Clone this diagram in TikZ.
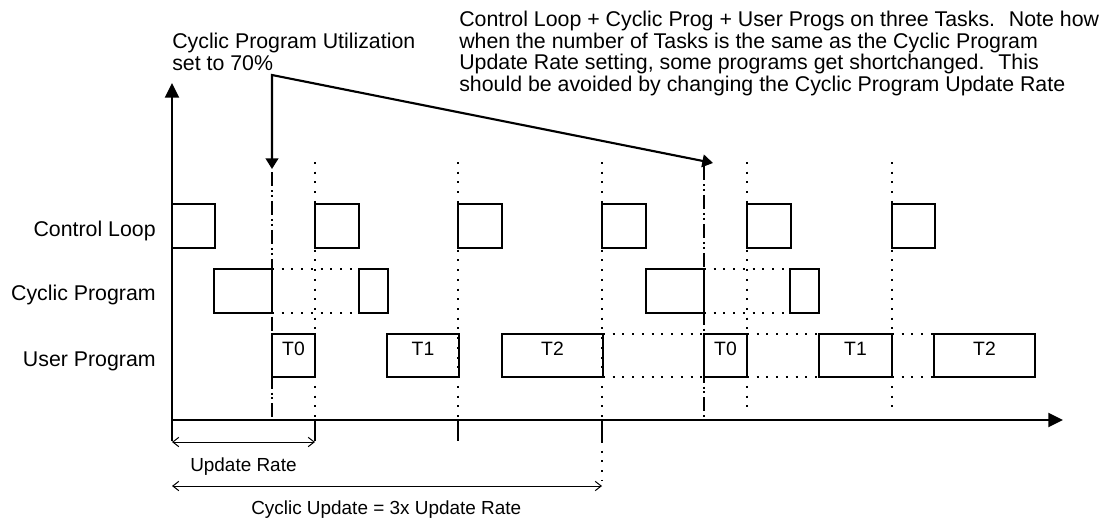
\documentclass[tikz,border=0pt]{standalone}
\usepackage{fontspec}
\setmainfont{Liberation Sans}
\usetikzlibrary{arrows.meta,fit}
\begin{document}
\begin{tikzpicture}[x=0.75pt,y=-0.75pt,
  box/.style={draw, line width=1.6pt, inner sep=0pt, outer sep=0pt, font=\fontsize{14.5}{16}\selectfont},
  dotline/.style={line width=1.5pt, dash pattern=on 1.5pt off 5.8pt},
  dashdot/.style={line width=1.6pt, dash pattern=on 10.5pt off 3pt on 1.5pt off 2.2pt on 1.5pt off 3pt},
  axis/.style={line width=1.6pt},
  lbl/.style={inner sep=0pt, font=\fontsize{16}{16.1}\selectfont},
  small/.style={inner sep=0pt, font=\fontsize{14.2}{16}\selectfont},
  dim/.style={line width=0.75pt, {Straight Barb[length=4.5pt,width=7pt]}-{Straight Barb[length=4.5pt,width=7pt]}},
  pointer/.style={line width=1.6pt, {Triangle[length=8pt,width=9.5pt]}-{Triangle[length=8pt,width=9.5pt]}},
]
\useasboundingbox (0,0) rectangle (1112,521);

% ---------- coordinates ----------
\coordinate (o) at (172,420);
\coordinate (ytop) at (172,83);
\coordinate (ybot) at (172,441);
\coordinate (xend) at (1063,420);

\coordinate (dA1) at (272,172);  \coordinate (dA2) at (272,420);
\coordinate (dB1) at (704,166);  \coordinate (dB2) at (704,420);

\coordinate (v1t) at (315,162);  \coordinate (v1b) at (315,420); \coordinate (k1) at (315,441);
\coordinate (v2t) at (458,162);  \coordinate (v2b) at (458,420); \coordinate (k2) at (458,441);
\coordinate (v3t) at (602,162);  \coordinate (v3b) at (602,420); \coordinate (k3) at (602,441);
\coordinate (k3e) at (602,480);
\coordinate (v4t) at (747,162);  \coordinate (v4b) at (747,412);
\coordinate (v5t) at (892,162);  \coordinate (v5b) at (892,412);

\coordinate (bend) at (272,75);
\coordinate (tipA) at (272,169);
\coordinate (tipB) at (713,163);

\coordinate (d1a) at (172,442); \coordinate (d1b) at (315,442);
\coordinate (d2a) at (172,486); \coordinate (d2b) at (602,486);

% ---------- guide lines ----------
\draw[dashdot] (dA1) -- (dA2);
\draw[dashdot] (dB1) -- (dB2);
\draw[dotline] (v1t) -- (v1b);
\draw[dotline] (v2t) -- (v2b);
\draw[dotline] (v3t) -- (v3b);
\draw[dotline] (v4t) -- (v4b);
\draw[dotline] (v5t) -- (v5b);
\draw[dotline] (k3) -- (k3e);

% ---------- axes ----------
\draw[axis, -{Triangle[length=11pt,width=10.5pt]}] (ybot) -- (ytop);
\draw[axis, -{Triangle[length=11pt,width=10.5pt]}] (o) -- (xend);
\draw[axis] (v1b) -- (k1);
\draw[axis] (v2b) -- (k2);
\draw[axis] (v3b) -- (k3);

% ---------- Control Loop ----------
\node[box, fit={(172,204) (215,248)}] (cl1) {};
\node[box, fit={(315,204) (359,248)}] (cl2) {};
\node[box, fit={(458,204) (502,248)}] (cl3) {};
\node[box, fit={(602,204) (646,248)}] (cl4) {};
\node[box, fit={(747,204) (791,248)}] (cl5) {};
\node[box, fit={(892,204) (935,248)}] (cl6) {};

% ---------- Cyclic Program ----------
\node[box, fit={(214,269) (272,313)}] (cp1) {};
\node[box, fit={(359,269) (388,313)}] (cp1s) {};
\node[box, fit={(646,269) (704,313)}] (cp2) {};
\node[box, fit={(790,269) (819,313)}] (cp2s) {};
\draw[dotline] (cp1.north east) -- (cp1s.north west);
\draw[dotline] (cp1.south east) -- (cp1s.south west);
\draw[dotline] (cp2.north east) -- (cp2s.north west);
\draw[dotline] (cp2.south east) -- (cp2s.south west);

% ---------- User Program ----------
\node[box, fit={(272,334) (315,377)}] (u1) {T0};
\node[box, fit={(387,334) (459,377)}] (u2) {T1};
\node[box, fit={(502,334) (603,377)}] (u3) {T2};
\node[box, fit={(704,334) (747,377)}] (u4) {T0};
\node[box, fit={(819,334) (892,377)}] (u5) {T1};
\node[box, fit={(934,334) (1035,377)}] (u6) {T2};
\draw[dotline] (u3.north east) -- (u4.north west);
\draw[dotline] (u3.south east) -- (u4.south west);
\draw[dotline] (u4.north east) -- (u5.north west);
\draw[dotline] (u4.south east) -- (u5.south west);
\draw[dotline] (u5.north east) -- (u6.north west);
\draw[dotline] (u5.south east) -- (u6.south west);

% ---------- pointer arrows ----------
\draw[pointer] (tipA) -- (bend) -- (tipB);

% ---------- dimension arrows ----------
\draw[dim] (d1a) -- (d1b);
\draw[dim] (d2a) -- (d2b);

% ---------- labels ----------
\node[lbl, anchor=base east] (lcl) at (156,236) {Control Loop};
\node[lbl, anchor=base east] (lcp) at (156,300) {Cyclic Program};
\node[lbl, anchor=base east] (lup) at (156,366) {User Program};
\node[lbl, anchor=base west, align=left] (util) at (172,70) {Cyclic Program Utilization\\set to 70\%};
\node[lbl, anchor=base west, align=left] (note) at (459,91) {Control Loop + Cyclic Prog + User Progs on three Tasks.~ Note how\\when the number of Tasks is the same as the Cyclic Program\\Update Rate setting, some programs get shortchanged.~ This\\should be avoided by changing the Cyclic Program Update Rate};
\node[small, anchor=base west] (ur) at (190,471) {Update Rate};
\node[small, anchor=base west] (cu) at (251,514) {Cyclic Update = 3x Update Rate};
\end{tikzpicture}
\end{document}
